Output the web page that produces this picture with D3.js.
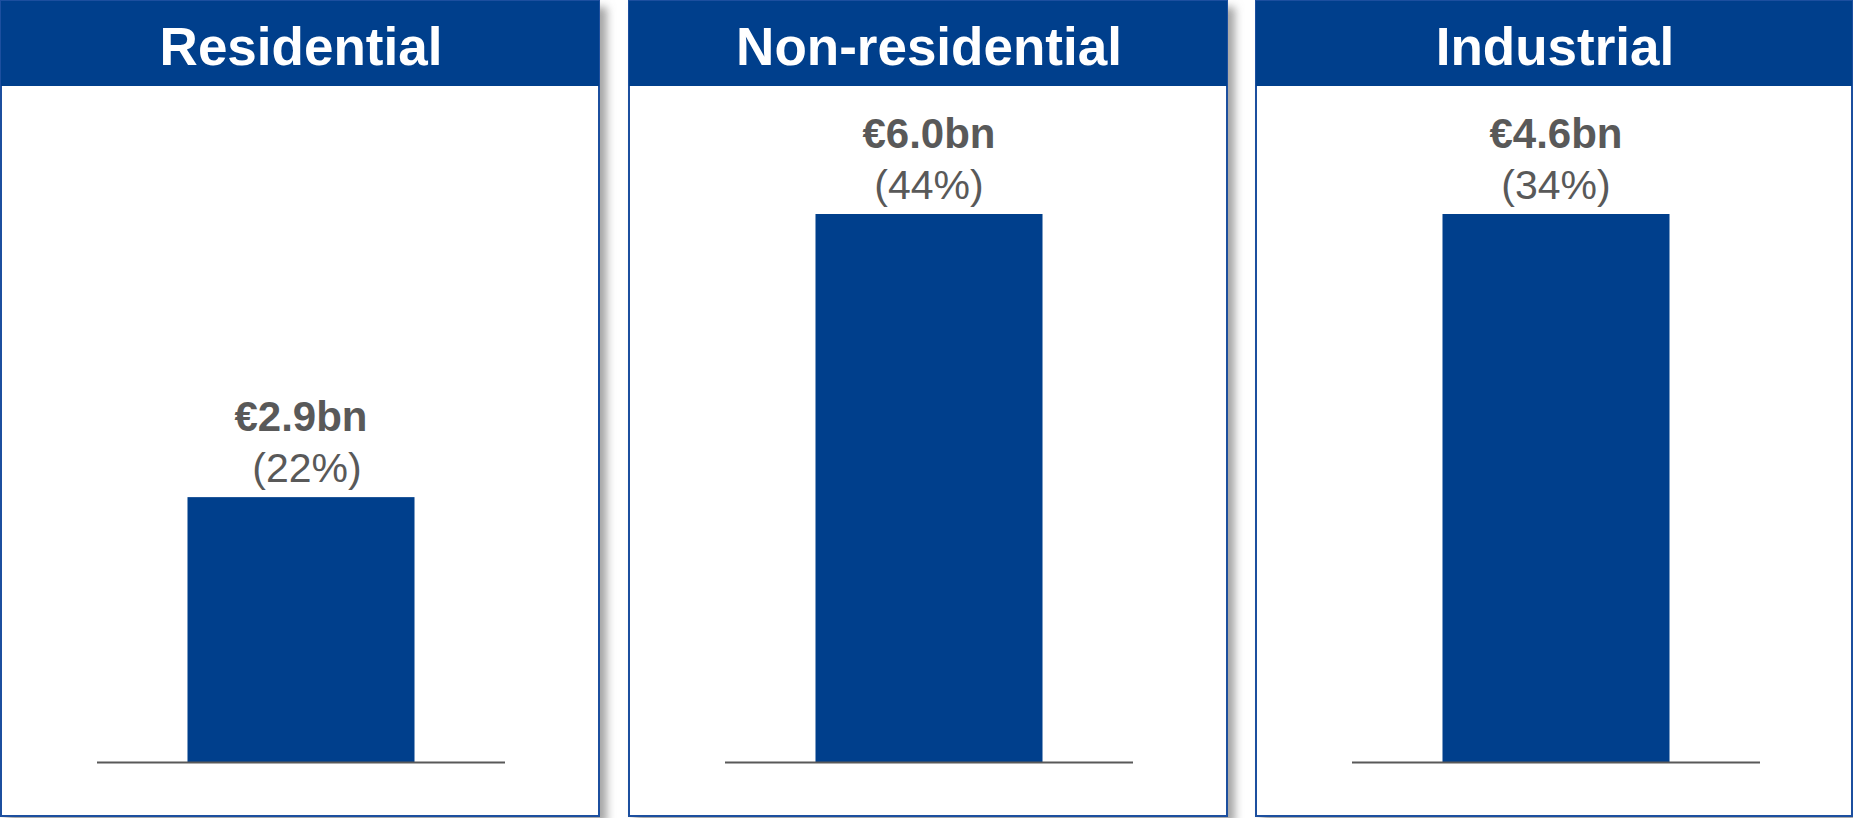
<!DOCTYPE html>
<html>
<head>
<meta charset="utf-8">
<script src="https://cdn.jsdelivr.net/npm/d3@7"></script>
<style>
  html, body { margin: 0; padding: 0; background: #ffffff; }
  svg { display: block; }
</style>
</head>
<body>
<svg id="chart" width="1853" height="818"></svg>
<script>
// Segment values (€bn), their shares and panel titles
const categories = ["Residential", "Non-residential", "Industrial"];
const valuesBn   = [2.9, 6.0, 4.6];
const shares     = [22, 44, 34];
// Top of each panel's value axis (€bn)
const axisMax    = [6.0, 6.0, 4.6];

const BLUE = "#003f8c";
const GREY = "#595959";
const FONT = "'Liberation Sans', Arial, Helvetica, sans-serif";

const svg = d3.select("#chart");

// Soft grey shadow behind each panel
const defs = svg.append("defs");
const f = defs.append("filter").attr("id", "shadow")
  .attr("x", "-5%").attr("y", "-5%").attr("width", "115%").attr("height", "115%");
f.append("feDropShadow")
  .attr("dx", 7).attr("dy", 7).attr("stdDeviation", 4)
  .attr("flood-color", "#7f7f7f").attr("flood-opacity", 0.7);

const panelW = 598, panelStep = 627.5, panelTop = 1, panelBottom = 816, headerH = 85;
const baseY = 762, plotTop = 214;

const panels = svg.selectAll("g.panel")
  .data(categories.map((c, i) => ({ cat: c, value: valuesBn[i], share: shares[i], max: axisMax[i], i })))
  .join("g")
  .attr("class", "panel")
  .attr("transform", d => `translate(${Math.round(1 + d.i * panelStep)},0)`);

const widthOf = d => d.i === 2 ? panelW - 2 : panelW;

// Frame with shadow
panels.append("rect")
  .attr("x", 0).attr("y", panelTop)
  .attr("width", widthOf)
  .attr("height", panelBottom - panelTop)
  .attr("fill", "#ffffff")
  .attr("stroke", "#1d4f9f").attr("stroke-width", 2)
  .attr("filter", "url(#shadow)");

// Header band
panels.append("rect")
  .attr("x", 0).attr("y", panelTop)
  .attr("width", widthOf)
  .attr("height", headerH)
  .attr("fill", BLUE);

panels.append("text")
  .attr("x", d => widthOf(d) / 2 + 1)
  .attr("y", 65)
  .attr("text-anchor", "middle")
  .attr("font-family", FONT).attr("font-weight", "bold")
  .attr("font-size", 53).attr("fill", "#ffffff")
  .text(d => d.cat);

panels.each(function(d) {
  const g = d3.select(this);
  const x = d3.scaleBand().domain([d.cat]).range([96, 504]).padding(0.285);
  const y = d3.scaleLinear().domain([0, d.max]).range([baseY, plotTop]);

  g.append("rect")
    .attr("x", x(d.cat))
    .attr("width", x.bandwidth())
    .attr("y", y(d.value))
    .attr("height", y(0) - y(d.value))
    .attr("fill", BLUE);

  // Category axis baseline
  g.append("line")
    .attr("x1", x.range()[0]).attr("x2", x.range()[1])
    .attr("y1", y(0) + 0.5).attr("y2", y(0) + 0.5)
    .attr("stroke", GREY).attr("stroke-width", 2);

  const cx = x(d.cat) + x.bandwidth() / 2;
  g.append("text")
    .attr("x", cx).attr("y", y(d.value) - 66)
    .attr("text-anchor", "middle")
    .attr("font-family", FONT).attr("font-weight", "bold")
    .attr("font-size", 42).attr("fill", GREY)
    .text(`€${d.value.toFixed(1)}bn`);
  g.append("text")
    .attr("x", cx + (d.i === 0 ? 6 : 0)).attr("y", y(d.value) - 15)
    .attr("text-anchor", "middle")
    .attr("font-family", FONT)
    .attr("font-size", 41).attr("fill", GREY)
    .text(`(${d.share}%)`);
});
</script>
</body>
</html>
